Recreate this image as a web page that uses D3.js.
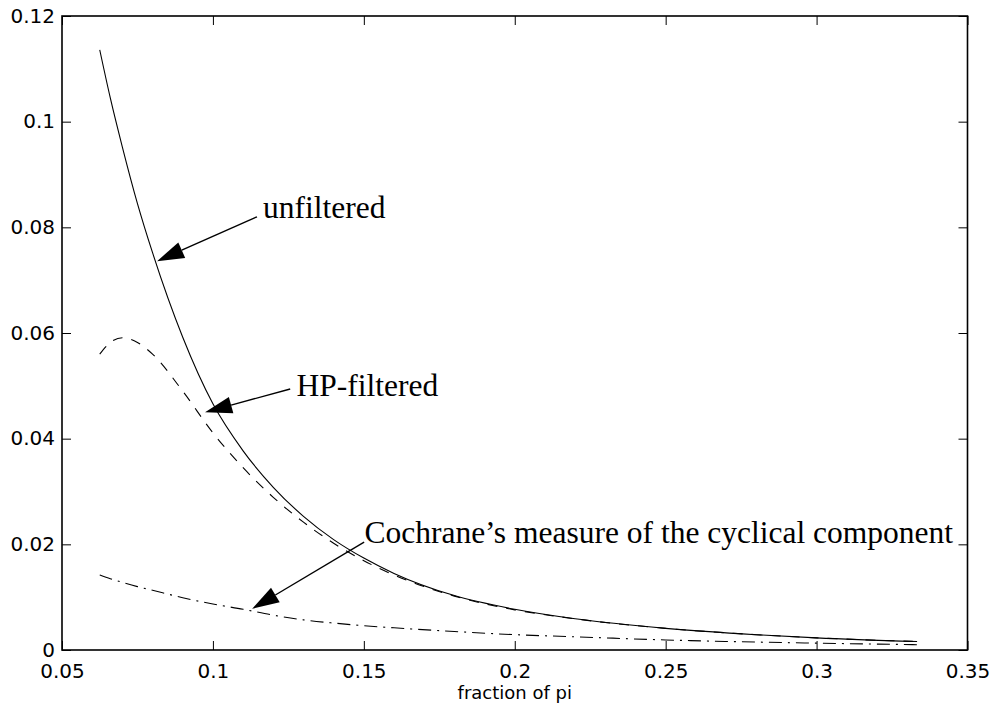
<!DOCTYPE html>
<html>
<head>
<meta charset="utf-8">
<script src="https://cdn.jsdelivr.net/npm/d3@7"></script>
<style>
  html, body { margin: 0; padding: 0; background: #fff; }
  svg { display: block; }
</style>
</head>
<body>
<svg id="chart" width="995" height="706"></svg>
<script>
// ---- data ----
const freq = [0.0625, 0.066, 0.07, 0.075, 0.08, 0.09, 0.10, 0.11, 0.12, 0.13, 0.14, 0.15, 0.16, 0.18, 0.20, 0.22, 0.25, 0.28, 0.30, 0.3333];
const unfiltered = [0.1136, 0.1045, 0.0952, 0.0845, 0.0752, 0.0592, 0.0466, 0.0377, 0.0308, 0.0253, 0.0209, 0.0174, 0.0145, 0.0103, 0.0077, 0.0059, 0.0041, 0.0029, 0.0023, 0.0016];
const hpFiltered = [0.0560, 0.0582, 0.0591, 0.0582, 0.0560, 0.0490, 0.0411, 0.0345, 0.0289, 0.0242, 0.0202, 0.0169, 0.0142, 0.0102, 0.0076, 0.0059, 0.0041, 0.0029, 0.0023, 0.0016];
const cochrane = [0.0142, 0.0135, 0.0128, 0.0120, 0.0113, 0.0099, 0.0087, 0.0077, 0.0066, 0.0057, 0.0051, 0.0046, 0.0042, 0.0035, 0.0029, 0.0025, 0.0019, 0.0015, 0.0013, 0.0010];
const xTicks = [0.05, 0.1, 0.15, 0.2, 0.25, 0.3, 0.35];
const yTicks = [0, 0.02, 0.04, 0.06, 0.08, 0.1, 0.12];
const xLabel = "fraction of pi";
// annotations: label, text anchor point, arrow tail, arrow tip (data units)
const annLabels = ["unfiltered", "HP-filtered", "Cochrane\u2019s measure of the cyclical component"];
const annText = [[0.1166, 0.0818], [0.1277, 0.0481], [0.1502, 0.0202]];
const annTail = [[0.1146, 0.0820], [0.1256, 0.0494], [0.1501, 0.0204]];
const annTip = [[0.0815, 0.0736], [0.0974, 0.0450], [0.1130, 0.0078]];

// ---- layout ----
const svg = d3.select("#chart");
const L = 62, R = 967.5, T = 16, B = 650;
const x = d3.scaleLinear().domain([0.05, 0.35]).range([L, R]);
const y = d3.scaleLinear().domain([0, 0.12]).range([B, T]);

const tickLen = 9;
const axFont = "'DejaVu Sans', Verdana, sans-serif";
const serif = "'Liberation Serif', 'Times New Roman', Times, serif";
const fmt = d => String(+d.toFixed(2));

// axes with inward ticks
const gx = svg.append("g").attr("transform", `translate(0,${B})`)
  .call(d3.axisBottom(x).tickValues(xTicks).tickSizeInner(-tickLen).tickSizeOuter(0).tickPadding(14).tickFormat(fmt));
const gxt = svg.append("g").attr("transform", `translate(0,${T})`)
  .call(d3.axisTop(x).tickValues(xTicks).tickSizeInner(-tickLen).tickSizeOuter(0).tickFormat(""));
const gy = svg.append("g").attr("transform", `translate(${L},0)`)
  .call(d3.axisLeft(y).tickValues(yTicks).tickSizeInner(-tickLen).tickSizeOuter(0).tickPadding(7).tickFormat(fmt));
const gyr = svg.append("g").attr("transform", `translate(${R},0)`)
  .call(d3.axisRight(y).tickValues(yTicks).tickSizeInner(-tickLen).tickSizeOuter(0).tickFormat(""));

[gx, gxt, gy, gyr].forEach(g => {
  g.select(".domain").remove();
  g.selectAll(".tick line").attr("stroke", "#000").attr("stroke-width", 1);
  g.selectAll("text").attr("font-family", axFont).attr("font-size", 20).attr("fill", "#000");
});
gy.selectAll("text").attr("dy", "0.3em");

// box
svg.append("rect").attr("x", L).attr("y", T).attr("width", R - L).attr("height", B - T)
  .attr("fill", "none").attr("stroke", "#000").attr("stroke-width", 1.6);

// x label
svg.append("text").attr("x", x(0.2)).attr("y", 699).attr("text-anchor", "middle")
  .attr("font-family", axFont).attr("font-size", 18).attr("fill", "#000").text(xLabel);

// lines
const line = d3.line().x(d => x(d[0])).y(d => y(d[1])).curve(d3.curveMonotoneX);
const series = [
  { vals: unfiltered, dash: null },
  { vals: hpFiltered, dash: "10,9" },
  { vals: cochrane, dash: "13,6,2,6" }
];
series.forEach(s => {
  svg.append("path").datum(freq.map((f, i) => [f, s.vals[i]]))
    .attr("d", line).attr("fill", "none").attr("stroke", "#000").attr("stroke-width", 1.1)
    .attr("stroke-dasharray", s.dash);
});

// annotations
const headLen = 27, headHalf = 8.5;
annLabels.forEach((lab, i) => {
  const x0 = x(annTail[i][0]), y0 = y(annTail[i][1]);
  const x1 = x(annTip[i][0]), y1 = y(annTip[i][1]);
  const dx = x1 - x0, dy = y1 - y0, len = Math.hypot(dx, dy);
  const ux = dx / len, uy = dy / len;
  const bx = x1 - ux * headLen, by = y1 - uy * headLen;
  svg.append("line").attr("x1", x0).attr("y1", y0).attr("x2", bx).attr("y2", by)
    .attr("stroke", "#000").attr("stroke-width", 1.4);
  svg.append("path")
    .attr("d", `M${x1},${y1}L${bx - uy * headHalf},${by + ux * headHalf}L${bx + uy * headHalf},${by - ux * headHalf}Z`)
    .attr("fill", "#000");
  svg.append("text").attr("x", x(annText[i][0])).attr("y", y(annText[i][1]))
    .attr("font-family", serif).attr("font-size", 31.5).attr("fill", "#000").text(lab);
});
</script>
</body>
</html>
